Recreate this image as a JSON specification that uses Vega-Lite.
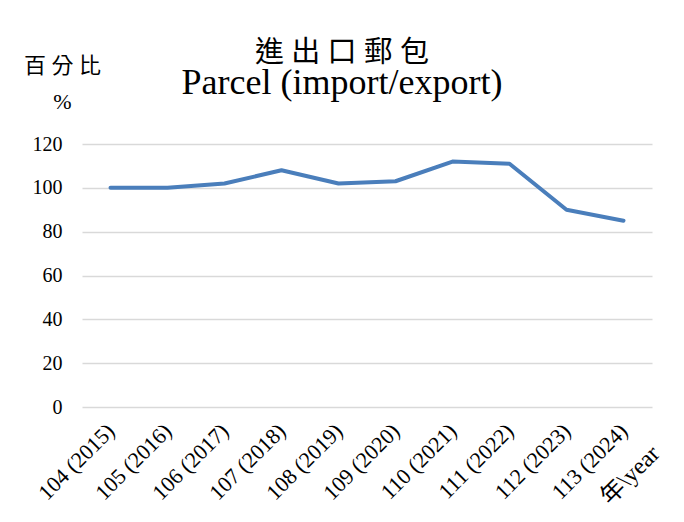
{
  "$schema": "https://vega.github.io/schema/vega-lite/v6.json",
  "autosize": "none",
  "width": 570,
  "height": 263,
  "padding": {"left": 82, "top": 144, "right": 32, "bottom": 115},
  "background": "white",
  "title": {
    "text": "進 出 口 郵 包",
    "subtitle": "Parcel (import/export)",
    "anchor": "middle",
    "frame": "group",
    "dx": -25,
    "font": "Liberation Serif, Noto Sans CJK TC",
    "fontSize": 29,
    "fontWeight": "normal",
    "color": "black",
    "subtitleFont": "Liberation Serif",
    "subtitleFontSize": 36,
    "subtitleColor": "black",
    "subtitlePadding": -2,
    "offset": -47
  },
  "data": {
    "values": [
      {"year": "104 (2015)", "value": 100},
      {"year": "105 (2016)", "value": 100},
      {"year": "106 (2017)", "value": 102},
      {"year": "107 (2018)", "value": 108},
      {"year": "108 (2019)", "value": 102},
      {"year": "109 (2020)", "value": 103},
      {"year": "110 (2021)", "value": 112},
      {"year": "111 (2022)", "value": 111},
      {"year": "112 (2023)", "value": 90},
      {"year": "113 (2024)", "value": 85}
    ]
  },
  "mark": {"type": "line", "color": "#4A7EBB", "strokeWidth": 4, "strokeCap": "round", "strokeJoin": "round"},
  "encoding": {
    "x": {
      "field": "year",
      "type": "ordinal",
      "sort": null,
      "scale": {"type": "point", "padding": 0.5},
      "axis": {
        "title": "年\\year",
        "titleAngle": -45,
        "titleX": 548,
        "titleY": 68,
        "titleAlign": "center",
        "titleBaseline": "middle",
        "titleFont": "Liberation Serif, Noto Sans CJK TC",
        "titleFontSize": 24,
        "titleFontWeight": "normal",
        "titleColor": "black",
        "labelAngle": -45,
        "labelAlign": "right",
        "labelBaseline": "middle",
        "labelFont": "Liberation Serif",
        "labelFontSize": 22,
        "labelColor": "black",
        "labelPadding": 20,
        "domain": false,
        "ticks": false,
        "grid": false
      }
    },
    "y": {
      "field": "value",
      "type": "quantitative",
      "scale": {"domain": [0, 120]},
      "axis": {
        "values": [0, 20, 40, 60, 80, 100, 120],
        "title": ["百 分 比", "%"],
        "titleAngle": 0,
        "titleX": -20,
        "titleY": -79,
        "titleAlign": "center",
        "titleBaseline": "middle",
        "titleLineHeight": 36,
        "titleFont": "Liberation Serif, Noto Sans CJK TC",
        "titleFontSize": 22,
        "titleFontWeight": "normal",
        "titleColor": "black",
        "labelFont": "Liberation Serif",
        "labelFontSize": 20,
        "labelColor": "black",
        "labelPadding": 20,
        "domain": false,
        "ticks": false,
        "gridColor": "#d9d9d9",
        "gridWidth": 1.3
      }
    }
  },
  "config": {"view": {"stroke": null}}
}
